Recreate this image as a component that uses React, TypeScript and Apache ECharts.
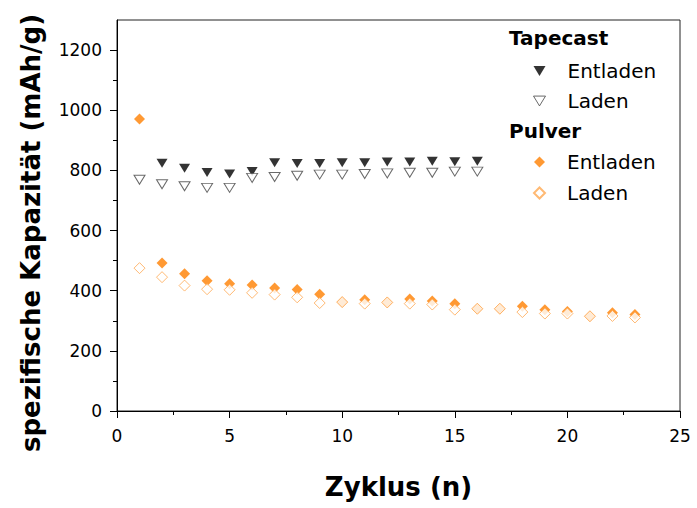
import React, { useEffect, useRef } from "react";
import * as echarts from "echarts";

const cyclesTapeEntladen = [2, 3, 4, 5, 6, 7, 8, 9, 10, 11, 12, 13, 14, 15, 16];
const tapeEntladen = [824, 807, 793, 788, 796, 825, 823, 823, 825, 825, 828, 828, 830, 829, 830];
const cyclesTapeLaden = [1, 2, 3, 4, 5, 6, 7, 8, 9, 10, 11, 12, 13, 14, 15, 16];
const tapeLaden = [769, 754, 747, 742, 742, 775, 778, 782, 786, 786, 788, 790, 792, 792, 796, 796];
const cyclesPulver = [1, 2, 3, 4, 5, 6, 7, 8, 9, 10, 11, 12, 13, 14, 15, 16, 17, 18, 19, 20, 21, 22, 23];
const pulverEntladen = [971, 492, 456, 433, 423, 419, 409, 404, 388, 362, 370, 361, 372, 366, 357, 340, 340, 348, 337, 331, 315, 327, 321];
const pulverLaden = [475, 445, 417, 405, 403, 393, 387, 378, 359, 362, 357, 361, 357, 354, 337, 340, 340, 329, 324, 324, 315, 316, 311];
const yMajorTicks = [0, 200, 400, 600, 800, 1000, 1200];
const yMinorTicks = [100, 300, 500, 700, 900, 1100];

const FONT = '"DejaVu Sans", Verdana, sans-serif';
const DOWN_TRIANGLE = "path://M0,0L11,0L5.5,9Z";

const zip = (xs: number[], ys: number[]) => xs.map((x, i) => [x, ys[i]]);

export default function App() {
  const ref = useRef<HTMLDivElement>(null);
  useEffect(() => {
    if (!ref.current) return;
    const chart = echarts.init(ref.current, null, { renderer: "svg" });
    const legendCommon = {
      orient: "vertical" as const,
      left: 533,
      padding: 0,
      itemWidth: 12,
      itemHeight: 10,
      itemGap: 10,
      selectedMode: false,
      textStyle: { fontSize: 20, fontFamily: FONT, color: "#000", padding: [0, 0, 0, 17] },
      formatter: (name: string) => name.replace(/^\S+ /, ""),
    };
    chart.setOption({
      animation: false,
      backgroundColor: "#fff",
      grid: {
        left: 117,
        right: 17,
        top: 20,
        bottom: 97,
        show: true,
        borderColor: "#222",
        borderWidth: 1,
        backgroundColor: "transparent",
      },
      legend: [
        {
          ...legendCommon,
          top: 61,
          data: [
            { name: "Tapecast Entladen", icon: DOWN_TRIANGLE, itemStyle: { color: "#000", borderWidth: 0 } },
            {
              name: "Tapecast Laden",
              icon: DOWN_TRIANGLE,
              itemStyle: { color: "#fff", borderColor: "#444", borderWidth: 1 },
            },
          ],
        },
        {
          ...legendCommon,
          top: 152,
          itemWidth: 11,
          itemHeight: 11,
          itemGap: 11,
          data: [
            { name: "Pulver Entladen", icon: "diamond" },
            { name: "Pulver Laden", icon: "diamond" },
          ],
        },
      ],
      graphic: [
        {
          type: "text",
          left: 509,
          top: 28,
          style: { text: "Tapecast", font: `bold 20px ${FONT}`, fill: "#000" },
        },
        {
          type: "text",
          left: 509,
          top: 121,
          style: { text: "Pulver", font: `bold 20px ${FONT}`, fill: "#000" },
        },
        {
          type: "text",
          x: 31,
          y: 233,
          rotation: Math.PI / 2,
          style: {
            text: "spezifische Kapazität (mAh/g)",
            font: `bold 26px ${FONT}`,
            fill: "#000",
            align: "center",
            verticalAlign: "middle",
          },
        },
      ],
      xAxis: {
        type: "value",
        min: 0,
        max: 25,
        interval: 5,
        name: "Zyklus (n)",
        nameLocation: "middle",
        nameGap: 76,
        nameTextStyle: {
          fontSize: 26,
          fontWeight: "bold",
          fontFamily: FONT,
          color: "#000",
          verticalAlign: "middle",
        },
        axisLine: { show: true, lineStyle: { color: "#000", width: 1 } },
        axisTick: { show: true, length: 7, lineStyle: { color: "#000" } },
        minorTick: { show: true, splitNumber: 2, length: 4, lineStyle: { color: "#000" } },
        splitLine: { show: false },
        axisLabel: {
          fontSize: 17,
          fontFamily: FONT,
          color: "#000",
          margin: 16,
          formatter: (v: number) => String(v),
        },
      },
      yAxis: [
        {
          type: "value",
          min: 0,
          max: 1300,
          interval: 200,
          position: "left",
          axisLine: { show: true, lineStyle: { color: "#000", width: 1 } },
          axisTick: { show: true, length: 7, customValues: yMajorTicks, lineStyle: { color: "#000" } },
          splitLine: { show: false },
          axisLabel: {
            fontSize: 17,
            fontFamily: FONT,
            color: "#000",
            margin: 15,
            customValues: yMajorTicks,
            formatter: (v: number) => String(v),
          },
        },
        {
          type: "value",
          min: 0,
          max: 1300,
          interval: 100,
          position: "left",
          axisLine: { show: false },
          axisTick: { show: true, length: 4, customValues: yMinorTicks, lineStyle: { color: "#000" } },
          splitLine: { show: false },
          axisLabel: { show: false },
        },
      ],
      series: [
        {
          name: "Tapecast Entladen",
          type: "scatter",
          yAxisIndex: 0,
          symbol: "triangle",
          symbolRotate: 180,
          symbolSize: [11, 9],
          itemStyle: { color: "#000" },
          data: zip(cyclesTapeEntladen, tapeEntladen),
        },
        {
          name: "Tapecast Laden",
          type: "scatter",
          yAxisIndex: 0,
          symbol: "triangle",
          symbolRotate: 180,
          symbolSize: [11, 9],
          itemStyle: { color: "#fff", borderColor: "#444", borderWidth: 1 },
          data: zip(cyclesTapeLaden, tapeLaden),
        },
        {
          name: "Pulver Entladen",
          type: "scatter",
          yAxisIndex: 0,
          symbol: "diamond",
          symbolSize: 11,
          itemStyle: { color: "#FF8000" },
          data: zip(cyclesPulver, pulverEntladen),
        },
        {
          name: "Pulver Laden",
          type: "scatter",
          yAxisIndex: 0,
          symbol: "diamond",
          symbolSize: 11,
          itemStyle: { color: "#fff", borderColor: "#FFA850", borderWidth: 1 },
          data: zip(cyclesPulver, pulverLaden),
        },
      ],
    });
    return () => chart.dispose();
  }, []);
  return <div ref={ref} style={{ width: 697, height: 508, position: "absolute", left: 0, top: 0 }} />;
}
